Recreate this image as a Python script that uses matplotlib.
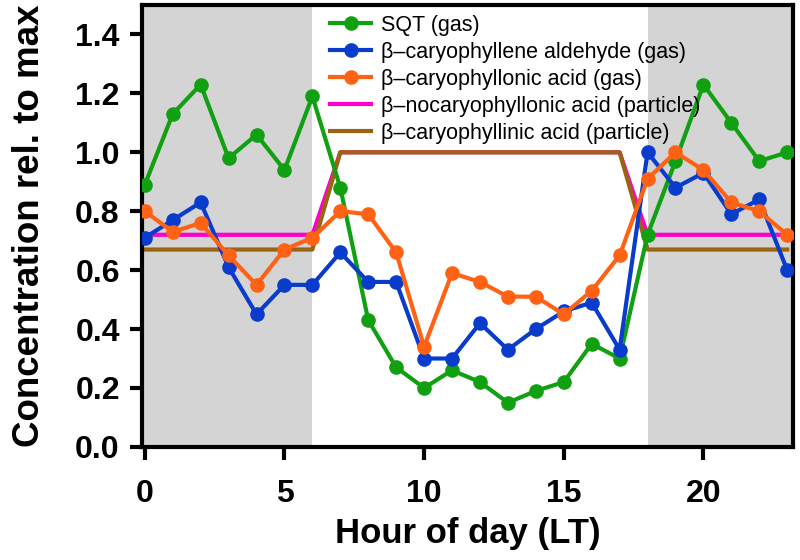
import matplotlib
matplotlib.use("Agg")
import matplotlib.pyplot as plt

hours = list(range(24))
sqt = [0.89, 1.13, 1.23, 0.98, 1.06, 0.94, 1.19, 0.88, 0.43, 0.27, 0.20, 0.26,
       0.22, 0.15, 0.19, 0.22, 0.35, 0.30, 0.72, 0.97, 1.23, 1.10, 0.97, 1.00]
aldehyde = [0.71, 0.77, 0.83, 0.61, 0.45, 0.55, 0.55, 0.66, 0.56, 0.56, 0.30, 0.30,
            0.42, 0.33, 0.40, 0.46, 0.49, 0.33, 1.00, 0.88, 0.93, 0.79, 0.84, 0.60]
acid = [0.80, 0.73, 0.76, 0.65, 0.55, 0.67, 0.71, 0.80, 0.79, 0.66, 0.34, 0.59,
        0.56, 0.51, 0.51, 0.45, 0.53, 0.65, 0.91, 1.00, 0.94, 0.83, 0.80, 0.72]
nocaryo = [0.72]*7 + [1.0]*11 + [0.72]*6
caryophyllinic = [0.67]*7 + [1.0]*11 + [0.67]*6

labels = ["SQT (gas)", "β–caryophyllene aldehyde (gas)", "β–caryophyllonic acid (gas)",
          "β–nocaryophyllonic acid (particle)", "β–caryophyllinic acid (particle)"]
night_spans = [(-0.1, 6), (18, 23.2)]
xticks = [0, 5, 10, 15, 20]
yticks = [0.0, 0.2, 0.4, 0.6, 0.8, 1.0, 1.2, 1.4]

bold_fam = ['Liberation Sans', 'DejaVu Sans']
reg_fam = ['Liberation Sans', 'DejaVu Sans']

fig = plt.figure(figsize=(8, 5.6), dpi=100)
ax = fig.add_axes([0.1775, 0.202, 0.8135, 0.789])

for a, b in night_spans:
    ax.axvspan(a, b, color='#d4d4d4', lw=0, zorder=0)

ax.plot(hours, sqt, color='#11a011', lw=3, marker='o', ms=9.5, label=labels[0], zorder=3)
ax.plot(hours, aldehyde, color='#0a3ccc', lw=3, marker='o', ms=9.5, label=labels[1], zorder=4)
ax.plot(hours, acid, color='#ff6214', lw=3, marker='o', ms=9.5, label=labels[2], zorder=5)
ax.plot(hours, nocaryo, color='#ff00cc', lw=3, label=labels[3], zorder=2)
ax.plot(hours, caryophyllinic, color='#9a6410', lw=3, label=labels[4], zorder=2)

ax.set_xlim(-0.1, 23.2)
ax.set_ylim(0, 1.5)
ax.set_xticks(xticks)
ax.set_yticks(yticks)
ax.set_xticklabels([str(t) for t in xticks], fontfamily=bold_fam, fontweight='bold', fontsize=23)
ax.set_yticklabels([f"{t:.1f}" for t in yticks], fontfamily=bold_fam, fontweight='bold', fontsize=23)
ax.tick_params(direction='out', length=9, width=3)
ax.tick_params(axis='x', pad=14)
ax.tick_params(axis='y', pad=7)
for s in ax.spines.values():
    s.set_linewidth(3)

ax.set_xlabel("Hour of day (LT)", fontfamily=bold_fam, fontweight='bold', fontsize=25, labelpad=6)
ax.set_ylabel("Concentration rel. to max", fontfamily=bold_fam, fontweight='bold', fontsize=26.5)
ax.yaxis.set_label_coords(-0.146, 0.5)

leg = ax.legend(loc='upper left', bbox_to_anchor=(0.289, 0.978), frameon=False,
                prop={'family': reg_fam, 'size': 15.5}, handlelength=1.9, handletextpad=0.45,
                labelspacing=0.28, borderpad=0, borderaxespad=0)

fig.savefig("out.png", dpi=100)
